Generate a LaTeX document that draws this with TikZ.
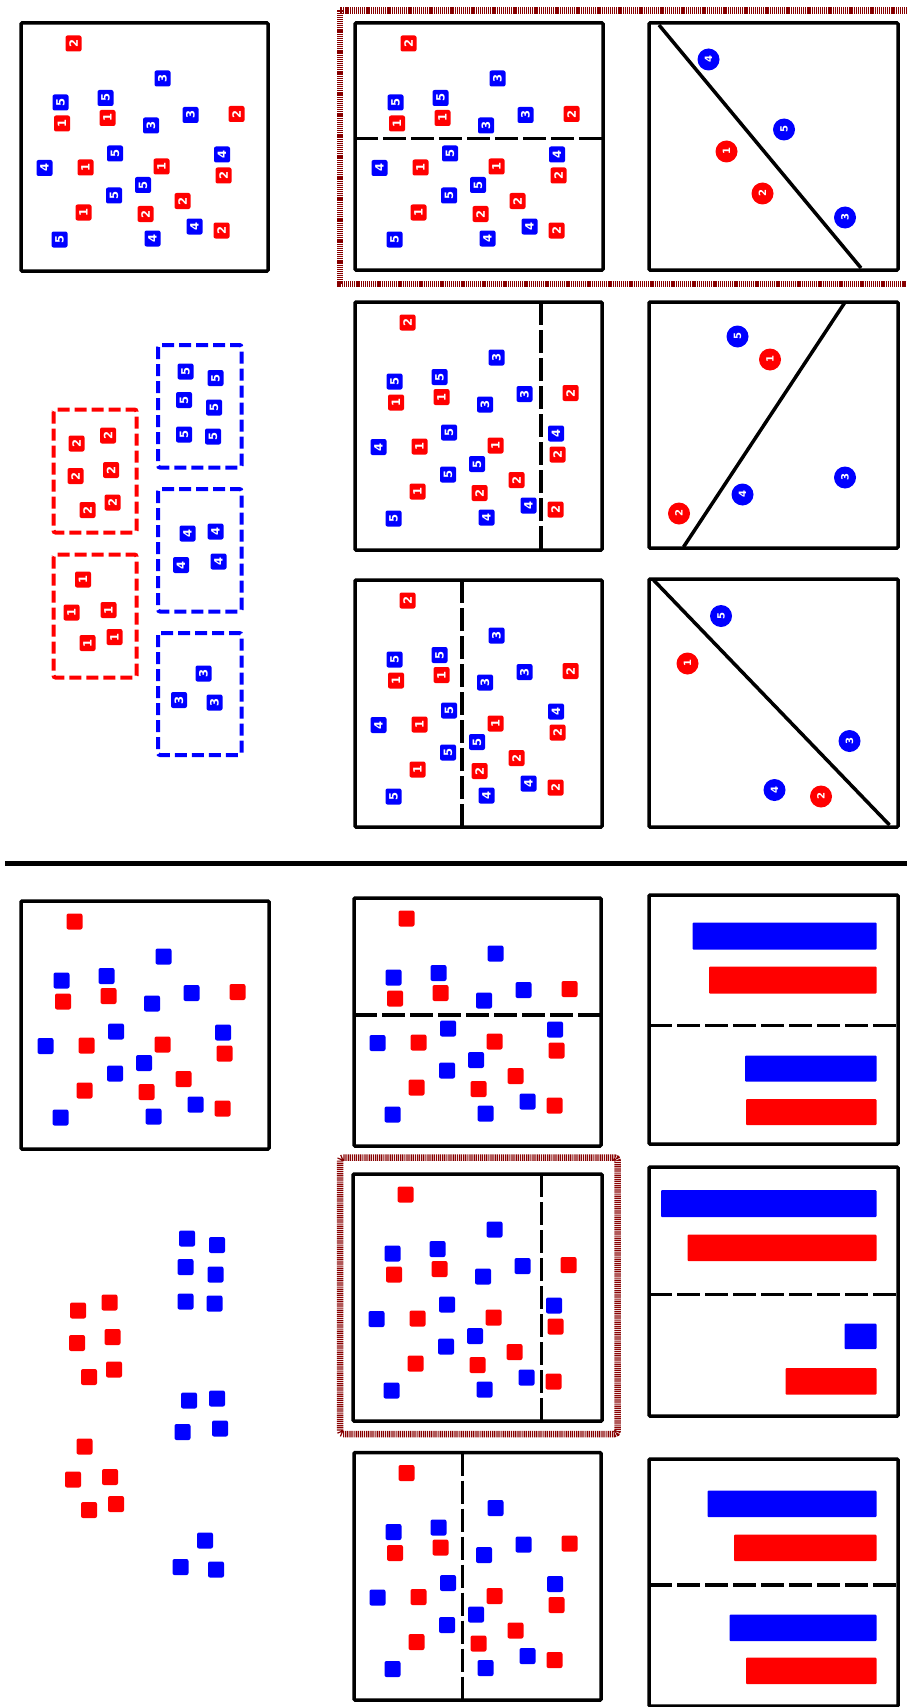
\documentclass[tikz,border=0pt]{standalone}
\usepackage{fontspec}
\setsansfont{DejaVu Sans}
\definecolor{ptR}{RGB}{255,0,0}
\definecolor{ptB}{RGB}{0,0,255}
\definecolor{hiC}{RGB}{135,0,0}

\tikzset{
  sq/.style={rectangle,rounded corners=2pt,minimum size=16pt,inner sep=0pt,
    fill=#1,text=white,rotate=90,font=\sffamily\bfseries\fontsize{11.5}{11.5}\selectfont},
  pt/.style={circle,minimum size=22pt,inner sep=0pt,
    fill=#1,text=white,rotate=90,font=\sffamily\bfseries\fontsize{10}{10}\selectfont},
  panel/.style={line width=3.5pt,rounded corners=1pt},
  split/.style={line width=3.5pt,dash pattern=on 23pt off 5pt},
  cut/.style={line width=3.5pt},
  grp/.style={draw=#1,line width=4pt,dash pattern=on 12pt off 5pt,rounded corners=2pt},
  hilite/.style={draw=hiC,line width=6.5pt,dash pattern=on 1.2pt off 0.9pt},
  bar/.style={fill=#1,rounded corners=1pt},
}

% points of one box, relative to its top left corner
\newcommand{\cloudpts}{52.5/20.5/2/ptR, 141.5/55.5/3/ptB, 39.5/79.5/5/ptB,
  84.5/75/5/ptB, 41/100.5/1/ptR, 86.5/95/1/ptR, 130/102.5/3/ptB,
  169.5/92/3/ptB, 215.5/91/2/ptR, 94/130.5/5/ptB, 23.5/145/4/ptB,
  64.5/144.5/1/ptR, 140.5/143.5/1/ptR, 201/131.5/4/ptB, 202.5/152.5/2/ptR,
  122/162/5/ptB, 93/172.5/5/ptB, 161.5/178/2/ptR, 62.5/189.5/1/ptR,
  124.5/191/2/ptR, 173.5/203.5/4/ptB, 200.5/207.5/2/ptR, 38.5/216.5/5/ptB,
  131.5/215.5/4/ptB}
% same points sorted into groups
\newcommand{\grppts}{185.5/371.5/5/ptB, 215.5/378/5/ptB, 184/400/5/ptB,
  214/407.5/5/ptB, 184/434.5/5/ptB, 213/436.5/5/ptB,
  76.5/443.5/2/ptR, 108/435.5/2/ptR, 75.5/476/2/ptR, 111/470/2/ptR,
  87.5/510/2/ptR, 112.5/502.5/2/ptR,
  187.5/533.5/4/ptB, 215.5/531.5/4/ptB, 181/565/4/ptB, 218.5/561.5/4/ptB,
  83/579.5/1/ptR, 71.5/612.5/1/ptR, 108.5/610/1/ptR, 87.5/643/1/ptR,
  114.5/637/1/ptR,
  203.5/673.5/3/ptB, 179/700/3/ptB, 214.5/702.5/3/ptB}

% #1,#2 corner, #3 name prefix, #4 = 1 with labels
\newcommand{\drawcloud}[4]{%
  \foreach \x/\y/\n/\c [count=\i] in \cloudpts
    \node[sq=\c] (#3\i) at (#1+\x,#2+\y) {\ifnum#4=1 \n\fi};}
\newcommand{\drawgroups}[4]{%
  \foreach \x/\y/\n/\c [count=\i] in \grppts
    \node[sq=\c] (#3\i) at (#1+\x,#2+\y) {\ifnum#4=1 \n\fi};}

\begin{document}
\begin{tikzpicture}[x=1pt,y=-1pt]
\useasboundingbox (0,0) rectangle (907,1707);

%% top half
\draw[panel] (21,23) rectangle (268,271);
\drawcloud{21}{23}{a}{1}

\draw[hilite] (340,10.5) rectangle (915,284);

\draw[panel] (355,23) rectangle (603,270);
\draw[split] (355,138.5) -- (603,138.5);
\drawcloud{356}{23}{b}{1}
\draw[panel] (355,302) rectangle (602,550);
\draw[split] (541,302) -- (541,550);
\drawcloud{355}{302}{c}{1}
\draw[panel] (355,580) rectangle (602,827);
\draw[split] (462,580) -- (462,827);
\drawcloud{355}{580}{d}{1}

% groups
\foreach \xa/\ya/\xb/\yb/\c in {158/345/241.5/467.5/ptB, 53.5/409.5/136.5/532.5/ptR,
  158/489/241.5/611.5/ptB, 53.5/554.5/136.5/677.5/ptR, 158/633/241.5/755/ptB}
  \draw[grp=\c] (\xa,\ya) rectangle (\xb,\yb);
\drawgroups{0}{0}{g}{1}

% splits of the points
\draw[panel] (649,23) rectangle (898,270);
\draw[cut] (659,25) -- (861,268);
\foreach \x/\y/\n/\c [count=\i] in {708.5/59.5/4/ptB, 784/129.5/5/ptB,
  726.5/151.5/1/ptR, 762.5/193.5/2/ptR, 845/217.5/3/ptB}
  \node[pt=\c] (p\i) at (\x,\y) {\n};
\draw[panel] (649,302) rectangle (898,548);
\draw[cut] (844.5,303) -- (683.5,547);
\foreach \x/\y/\n/\c [count=\i] in {737.5/336.5/5/ptB, 770/359.5/1/ptR,
  845/477.5/3/ptB, 742.5/494.5/4/ptB, 679/513.5/2/ptR}
  \node[pt=\c] (q\i) at (\x,\y) {\n};
\draw[panel] (649,579) rectangle (898,827);
\draw[cut] (653.5,580) -- (889.5,825);
\foreach \x/\y/\n/\c [count=\i] in {721/616/5/ptB, 687.5/663.5/1/ptR,
  849.5/741/3/ptB, 774.5/790/4/ptB, 821/796.5/2/ptR}
  \node[pt=\c] (r\i) at (\x,\y) {\n};

\draw[line width=5.5pt] (5,863.5) -- (907,863.5);

%% bottom half
\draw[panel] (21,901) rectangle (269,1149);
\drawcloud{22}{901}{e}{0}

\draw[panel] (354,898) rectangle (601,1146);
\draw[split] (354,1015) -- (601,1015);
\drawcloud{354}{898}{f}{0}
\draw[hilite,rounded corners=3pt] (340,1157.5) rectangle (617.5,1434);
\draw[panel] (353,1174) rectangle (602,1421);
\draw[split] (541.5,1174) -- (541.5,1421);
\drawcloud{353}{1174}{h}{0}
\draw[panel] (354,1452.5) rectangle (601,1700);
\draw[split] (462.5,1452.5) -- (462.5,1700);
\drawcloud{354}{1452.5}{k}{0}

\drawgroups{1.5}{867}{m}{0}

% counts per side
\draw[panel] (649,895) rectangle (898,1144);
\draw[split] (649,1025.5) -- (898,1025.5);
\foreach \xa/\ya/\yb/\c in {692.5/922.5/949.5/ptB, 709/966.5/993.5/ptR,
  745/1055.5/1081.5/ptB, 746/1099/1125/ptR}
  \fill[bar=\c] (\xa,\ya) rectangle (876.5,\yb);
\draw[panel] (649,1167) rectangle (898,1416);
\draw[split] (649,1294.5) -- (898,1294.5);
\foreach \xa/\ya/\yb/\c in {661/1190/1217/ptB, 687.5/1234.5/1261/ptR,
  844.5/1323.5/1349/ptB, 785.5/1368/1394.5/ptR}
  \fill[bar=\c] (\xa,\ya) rectangle (876.5,\yb);
\draw[panel] (649,1459) rectangle (898,1706);
\draw[split] (649,1585) -- (898,1585);
\foreach \xa/\ya/\yb/\c in {707.5/1490.5/1517/ptB, 734/1534.5/1561/ptR,
  729.5/1614.5/1641/ptB, 746/1657.5/1684/ptR}
  \fill[bar=\c] (\xa,\ya) rectangle (876.5,\yb);
\end{tikzpicture}
\end{document}
